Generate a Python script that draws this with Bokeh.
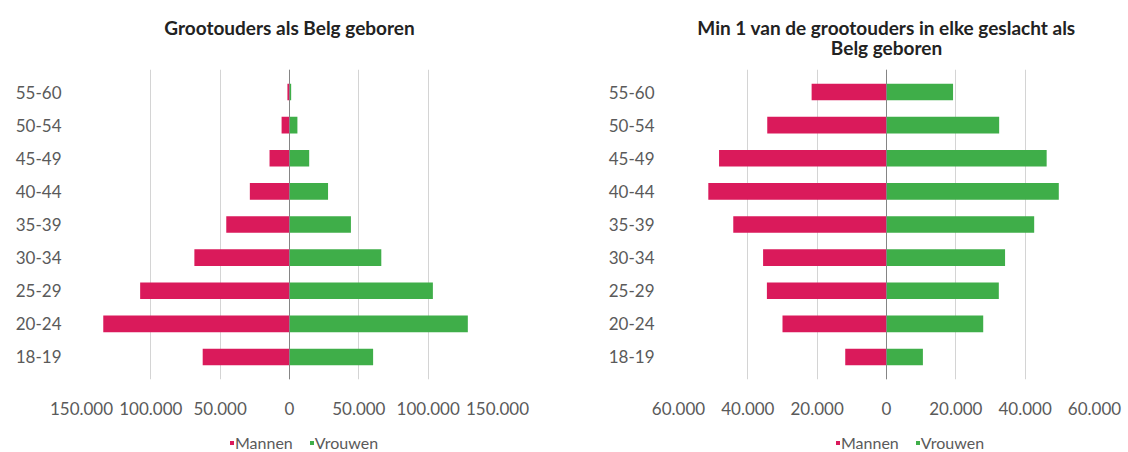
import numpy as np
from bokeh.plotting import figure
from bokeh.layouts import row, column
from bokeh.models import (FactorRange, Range1d, FixedTicker, Span, Legend, LegendItem,
                          ColumnDataSource, Title)
from bokeh.embed import file_html
from bokeh.resources import INLINE

# ---------------- data ----------------
age_groups = ["18-19", "20-24", "25-29", "30-34", "35-39", "40-44", "45-49", "50-54", "55-60"]

left_title_lines = ["Grootouders als Belg geboren", " "]
left_men = [62600, 134300, 107700, 68600, 45600, 28600, 14400, 5700, 1500]
left_women = [60300, 128600, 103400, 66200, 44300, 27800, 14200, 5700, 1200]
left_ticks = [-150000, -100000, -50000, 0, 50000, 100000, 150000]
left_tick_labels = ["150.000", "100.000", "50.000", "0", "50.000", "100.000", "150.000"]

right_title_lines = ["Min 1 van de grootouders in elke geslacht als", "Belg geboren"]
right_men = [11900, 30000, 34500, 35600, 44200, 51400, 48300, 34400, 21600]
right_women = [10500, 27900, 32400, 34200, 42600, 49700, 46200, 32500, 19200]
right_ticks = [-60000, -40000, -20000, 0, 20000, 40000, 60000]
right_tick_labels = ["60.000", "40.000", "20.000", "0", "20.000", "40.000", "60.000"]

series_names = ["Mannen", "Vrouwen"]
MEN_COLOR = "#DA1A5B"
WOMEN_COLOR = "#3FAE49"
TEXT = "#5a5a5a"
FONT = "Lato"


def make(title_lines, men, women, ticks, tick_labels, bl, br, ylab_standoff):
    src = ColumnDataSource(dict(
        cat=age_groups,
        men_left=-np.array(men, dtype=float),
        women_right=np.array(women, dtype=float),
        zero=np.zeros(len(age_groups)),
    ))
    xmax = max(abs(t) for t in ticks)
    p = figure(
        frame_width=416, frame_height=310,
        y_range=FactorRange(factors=age_groups, range_padding=0.18, range_padding_units="absolute"),
        x_range=Range1d(-xmax, xmax),
        output_backend="svg", toolbar_location=None,
        min_border_left=bl, min_border_right=br, min_border_top=69, min_border_bottom=45,
    )
    p.title = None
    t2 = Title(text=title_lines[1], align="center", text_font=FONT, text_font_style="bold",
               text_font_size="19px", text_color="#222222", standoff=21)
    t1 = Title(text=title_lines[0], align="center", text_font=FONT, text_font_style="bold",
               text_font_size="19px", text_color="#222222", standoff=-30)
    p.add_layout(t2, "above")
    p.add_layout(t1, "above")

    p.hbar(y="cat", left="men_left", right="zero", height=0.5, source=src,
           fill_color=MEN_COLOR, line_color=None)
    p.hbar(y="cat", left="zero", right="women_right", height=0.5, source=src,
           fill_color=WOMEN_COLOR, line_color=None)

    p.xaxis.ticker = FixedTicker(ticks=ticks)
    p.xaxis.major_label_overrides = {t: l for t, l in zip(ticks, tick_labels)}
    for ax in (p.xaxis, p.yaxis):
        ax.axis_line_color = None
        ax.major_tick_line_color = None
        ax.minor_tick_line_color = None
        ax.major_label_text_font = FONT
        ax.major_label_text_font_size = "17px"
        ax.major_label_text_color = TEXT
    p.xaxis.major_label_standoff = 16
    p.yaxis.major_label_standoff = ylab_standoff

    p.xgrid.grid_line_color = "#d4d4d4"
    p.xgrid.grid_line_width = 1
    p.ygrid.grid_line_color = None
    p.outline_line_color = None

    p.add_layout(Span(location=0, dimension="height", line_color="#858585", line_width=1))
    return p


def make_legend(width, legend_x):
    # separate strip under each chart holding only the legend
    lf = figure(frame_width=width, frame_height=28, output_backend="svg", toolbar_location=None,
                x_axis_location=None, y_axis_location=None,
                x_range=Range1d(0, 1), y_range=Range1d(0, 1),
                min_border_left=0, min_border_right=0, min_border_top=0, min_border_bottom=0)
    lf.outline_line_color = None
    lf.grid.visible = False
    key_src = ColumnDataSource(dict(y=[0.0], l=[0.0], r=[0.0]))  # zero-width legend key holders
    k1 = lf.hbar(y="y", left="l", right="r", height=0, source=key_src,
                 fill_color=MEN_COLOR, line_color=None)
    k2 = lf.hbar(y="y", left="l", right="r", height=0, source=key_src,
                 fill_color=WOMEN_COLOR, line_color=None)
    legend = Legend(
        items=[LegendItem(label=series_names[0], renderers=[k1]),
               LegendItem(label=series_names[1], renderers=[k2])],
        orientation="horizontal", location=(legend_x, 0),
        border_line_color=None, background_fill_alpha=0,
        glyph_width=5, glyph_height=5, label_standoff=1, spacing=16,
        label_text_font=FONT, label_text_font_size="16px", label_text_color=TEXT,
        padding=0, margin=0,
    )
    lf.add_layout(legend)
    return lf


p1 = make(left_title_lines, left_men, left_women, left_ticks, left_tick_labels, 81, 79, 14)
p2 = make(right_title_lines, right_men, right_women, right_ticks, right_tick_labels, 102, 34, 18)
l1 = make_legend(576, 229)
l2 = make_legend(552, 259)

layout = row(column(p1, l1), column(p2, l2))
open("out.html", "w").write(file_html(layout, INLINE))
